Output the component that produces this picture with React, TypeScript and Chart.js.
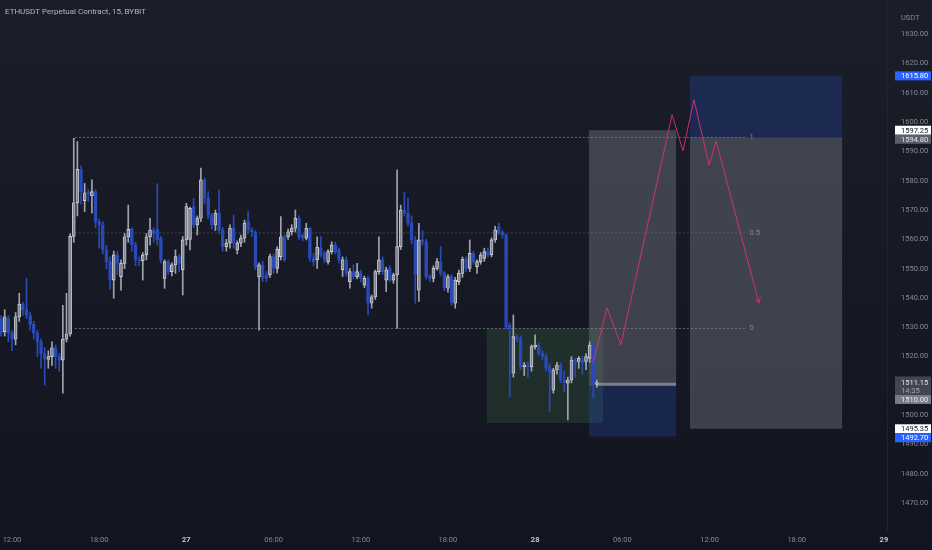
import { useEffect, useRef } from 'react';
import { Chart, registerables } from 'chart.js';

Chart.register(...registerables);

// ---------- data ----------
// bar index: 0 = 26th 12:00, one bar = 15 minutes
const CANDLE_START = -3;

const OPEN = [
  1533, 1528.5, 1533, 1528, 1525.9, 1533.6, 1537.9, 1536, 1534, 1531,
  1528, 1525, 1521, 1519, 1520, 1523, 1520, 1518.8, 1525.9, 1527.7,
  1561, 1572.5, 1583.9, 1573.2, 1576, 1574.9, 1576.3, 1566, 1564.9, 1556.4,
  1552.4, 1546.1, 1554.7, 1547.3, 1551.8, 1560.9, 1563.4, 1558.1, 1553, 1552.7,
  1554.7, 1560.9, 1563.2, 1563.4, 1560.4, 1546.7, 1552.4, 1549, 1551.3, 1554.1,
  1549.6, 1559.8, 1560, 1571.2, 1564.9, 1567.2, 1580.3, 1574, 1568.3, 1564.9,
  1568.9, 1563.2, 1557.5, 1558.7, 1563.8, 1556.4, 1558.7, 1560.4, 1566.1, 1563.2,
  1562.6, 1547.3, 1551.3, 1547.9, 1547.9, 1554.1, 1550.1, 1554.1, 1560.9, 1560.9,
  1562.6, 1563.8, 1567.2, 1561.5, 1560.4, 1563.8, 1553.5, 1553, 1557, 1555.2,
  1552.4, 1555.8, 1558.1, 1556.4, 1549.6, 1553, 1545.6, 1549, 1547.3, 1548.4,
  1544.4, 1546.7, 1538.2, 1540.4, 1549, 1553, 1546.1, 1550.1, 1546.1, 1547.9,
  1557.5, 1570, 1568.9, 1565.5, 1559.8, 1542.7, 1559.8, 1559.2, 1547.3, 1546.7,
  1550.1, 1552.4, 1548.4, 1543.3, 1547.3, 1538.2, 1545.6, 1548.4, 1553.2, 1550.1,
  1555.2, 1550.7, 1552.4, 1553.5, 1555.8, 1554.7, 1559.8, 1564.3, 1562.6, 1561.5,
  1530.8, 1514.3, 1526.8, 1526.2, 1516.5, 1517.1, 1516.5, 1523.4, 1523.9, 1521.1,
  1520, 1516.5, 1508.6, 1515.4, 1517.1, 1512, 1510.9, 1512, 1518.8, 1518.3,
  1518.8, 1518.3, 1519.4, 1523.9, 1510.5,
];
const HIGH = [
  1534, 1536, 1534, 1529, 1535, 1541.6, 1538.5, 1546.7, 1535, 1532,
  1529, 1526, 1523, 1522, 1525, 1524, 1521, 1537.5, 1541.6, 1562,
  1594.5, 1593.4, 1585, 1579.1, 1577, 1580.3, 1577, 1567, 1566, 1558,
  1554, 1556, 1556, 1553, 1562, 1571.7, 1564, 1559, 1554, 1555.5,
  1562, 1567.2, 1564, 1579, 1561, 1553, 1553, 1552, 1556.4, 1555,
  1561, 1572.3, 1571, 1574, 1568, 1584.3, 1581, 1576.3, 1569, 1570,
  1576.9, 1564, 1560, 1565, 1568.3, 1559.5, 1561.5, 1566.6, 1569.5, 1564,
  1563, 1552, 1552.5, 1549, 1555, 1555, 1557.5, 1567.8, 1561.5, 1563.5,
  1565, 1570, 1568, 1562, 1565.5, 1564, 1555.2, 1560.9, 1560.9, 1556,
  1556.5, 1559.2, 1559, 1557, 1554, 1554, 1550, 1551.3, 1551.8, 1549.5,
  1547.5, 1547.5, 1541, 1549.5, 1560.9, 1554, 1550.5, 1551, 1548.5, 1583.7,
  1571.7, 1576, 1574, 1568, 1561, 1565.5, 1563, 1560, 1548, 1551,
  1553.5, 1557.5, 1549, 1548, 1548, 1547, 1549.5, 1554, 1554, 1559.8,
  1556, 1553, 1555.5, 1557, 1557, 1560.5, 1564.5, 1565.5, 1563, 1562,
  1531.5, 1534.2, 1527.5, 1527, 1518, 1518, 1524, 1527.4, 1524.5, 1522,
  1521, 1517.5, 1516, 1518, 1518, 1515, 1513, 1520, 1519.5, 1520,
  1520, 1521, 1525, 1525, 1512,
];
const LOW = [
  1527, 1527, 1525, 1522, 1524, 1532, 1534, 1533, 1529, 1526,
  1520, 1516, 1510.3, 1516, 1517, 1516, 1515, 1507.5, 1525, 1527,
  1559, 1568, 1572, 1569.5, 1573, 1568.9, 1564, 1557, 1555, 1550,
  1543, 1539.9, 1548, 1542.7, 1550, 1559, 1556, 1551, 1551, 1546.1,
  1553, 1558, 1559, 1558, 1552, 1543.3, 1548, 1547.5, 1548.4, 1549,
  1541, 1558, 1556.4, 1564, 1561.5, 1566, 1572, 1567, 1563.5, 1563,
  1562, 1556, 1556, 1557, 1557, 1555, 1557.5, 1559, 1562, 1561,
  1549.6, 1529, 1545.5, 1545.5, 1547, 1548.4, 1548.5, 1553, 1552.4, 1560,
  1561.5, 1562.5, 1560, 1559.5, 1559.8, 1552.5, 1551, 1550.1, 1554, 1552,
  1551.5, 1555, 1555, 1552, 1547.3, 1547.5, 1543.3, 1546.5, 1546.5, 1545.5,
  1543.5, 1534.2, 1536.5, 1539.5, 1548, 1548, 1542.2, 1545.5, 1545, 1529.6,
  1556.5, 1568, 1564.5, 1558.5, 1538.2, 1538.8, 1558, 1546.5, 1545.5, 1545.5,
  1549.5, 1547.5, 1542.5, 1542, 1537.5, 1536.5, 1544.5, 1547, 1549, 1549,
  1551.5, 1548.4, 1551.5, 1552.5, 1554, 1554, 1559, 1561.5, 1560.5, 1529.5,
  1506.3, 1513, 1525, 1515.5, 1513.5, 1513, 1515, 1522.5, 1520.5, 1519,
  1515, 1501.2, 1507.5, 1514, 1511, 1508, 1498.4, 1511, 1513, 1516,
  1514, 1515.5, 1518, 1505.8, 1509.5,
];
const CLOSE = [
  1528, 1533.6, 1528, 1525.9, 1533.6, 1537.9, 1536, 1534, 1531, 1528,
  1525, 1521, 1519, 1520, 1523, 1520, 1518.8, 1525.9, 1527.7, 1561,
  1572.5, 1583.9, 1576.3, 1575.9, 1575.5, 1576.3, 1566, 1564.9, 1556.4, 1552.4,
  1546.1, 1554.7, 1551.8, 1551.8, 1560.9, 1563.4, 1558.1, 1553, 1552.7, 1554.7,
  1560.9, 1563.2, 1562, 1559.8, 1553, 1552.4, 1549, 1551.3, 1554.1, 1551.8,
  1559.8, 1571.2, 1570.6, 1564.9, 1567.2, 1580.3, 1574, 1568.3, 1564.9, 1568.9,
  1563.2, 1557.5, 1558.7, 1563.8, 1558.7, 1558.7, 1560.4, 1565.5, 1563.2, 1562.6,
  1550.7, 1551.3, 1546.7, 1546.7, 1554.1, 1550.1, 1556.6, 1560.9, 1553, 1562.6,
  1563.8, 1567.2, 1560.9, 1560.4, 1563.8, 1553.5, 1552.4, 1557.3, 1554.7, 1553,
  1555.8, 1558.1, 1555.8, 1553, 1553, 1548.4, 1549, 1547.3, 1549, 1546.7,
  1546.7, 1538.2, 1540.4, 1549, 1553, 1549, 1549.6, 1546.1, 1547.9, 1557.5,
  1570, 1568.9, 1565.5, 1559.8, 1548, 1559.8, 1559, 1547.3, 1546.7, 1550.1,
  1552.4, 1548.4, 1543.3, 1547.3, 1538.5, 1546.1, 1548.4, 1553.2, 1550.1, 1555.2,
  1552.4, 1552.4, 1554.7, 1555.8, 1554.7, 1559.8, 1563.2, 1562.1, 1561.5, 1530.2,
  1529.6, 1526.8, 1526.2, 1516.5, 1517.1, 1516.5, 1523.4, 1523.9, 1521.1, 1520,
  1516, 1514.8, 1515.4, 1517.1, 1512, 1511, 1512, 1518.8, 1517.7, 1519.4,
  1517.7, 1520, 1523.9, 1510.5, 1511.15,
];

const TIME_TICKS = [0, 24, 48, 72, 96, 120, 144, 168, 192, 216, 240];
const TIME_LABELS = ['12:00', '18:00', '27', '06:00', '12:00', '18:00', '28', '06:00', '12:00', '18:00', '29'];
const DATE_LABELS = ['27', '28', '29'];
const PRICE_TICKS = [1470, 1480, 1490, 1500, 1510, 1520, 1530, 1540, 1550, 1560, 1570, 1580, 1590, 1600, 1610, 1620, 1630];

const FIB_LEVELS = [1594.8, 1562.2, 1529.6];
const FIB_NAMES = ['1', '0.5', '0'];
const FIB_FROM = 17.3;
const FIB_TO = 201.8;
const FIB_LABEL_AT = 203;

const ZIGZAG_X = [159.9, 163.8, 167.6, 181.7, 184.7, 187.7, 191.9, 193.8, 205.6];
const ZIGZAG_Y = [1517.8, 1536.6, 1524.0, 1602.5, 1590.2, 1607.6, 1585.4, 1593.6, 1538.3];

// range box: [from bar, to bar, low, high]
const RANGE_BOX = [130.7, 162.7, 1497.3, 1529.6];
// long position: [from, to, stop, entry, target]
const LONG_POS = [158.8, 182.8, 1492.7, 1510.0, 1597.25];
// short position: [from, to, stop, entry, target]
const SHORT_POS = [186.6, 228.5, 1615.8, 1594.8, 1495.35];

const LAST_PRICE = 1511.15;
const LAST_BAR = 161;
const COUNTDOWN = '14:35';

const TITLE = 'ETHUSDT Perpetual Contract, 15, BYBIT';
const CURRENCY = 'USDT';

// ---------- styles ----------
const X_MIN = -3.3;
const X_MAX = 240.85;
const Y_MIN = 1460.8;
const Y_MAX = 1641.7;
const UP_FILL = '#80848e';
const UP_EDGE = '#cdd0d7';
const UP_WICK = '#a0a4ad';
const DOWN = '#2a4ab8';
const AXIS_TEXT = '#868993';
const FONT = 'Roboto, "Liberation Sans", sans-serif';

type Lbl = { price: number; text: string; bg: string; fg: string; sub?: string };

export default function App() {
  const ref = useRef<HTMLCanvasElement | null>(null);

  useEffect(() => {
    if (!ref.current) return;
    const xs = OPEN.map((_, k) => CANDLE_START + k);
    const up = OPEN.map((o, k) => CLOSE[k] >= o);

    const bodies = OPEN.map((o, k) => ({ x: xs[k], y: [o, CLOSE[k]] }));
    const wicks = OPEN.map((o, k) => ({
      x: xs[k],
      y: [Math.min(LOW[k], o, CLOSE[k]), Math.max(HIGH[k], o, CLOSE[k])],
    }));

    const fibSets = FIB_LEVELS.map((lv, k) => ({
      type: 'line' as const,
      data: [{ x: FIB_FROM, y: lv }, { x: FIB_TO, y: lv }],
      borderColor: k === 1 ? 'rgba(120,123,134,0.45)' : 'rgba(130,133,144,0.75)',
      borderWidth: 1,
      borderDash: [2, 2],
      pointRadius: 0,
      order: 3,
    }));

    const bgPlugin = {
      id: 'bgPlugin',
      beforeDraw(chart: any) {
        const { ctx, width, height } = chart;
        const g = ctx.createLinearGradient(0, 0, 0, height);
        g.addColorStop(0, '#1b1e29');
        g.addColorStop(1, '#121520');
        ctx.save();
        ctx.fillStyle = g;
        ctx.fillRect(0, 0, width, height);
        ctx.restore();
      },
    };

    const zonePlugin = {
      id: 'zonePlugin',
      beforeDatasetsDraw(chart: any) {
        const { ctx, chartArea } = chart;
        const x = chart.scales.x;
        const y = chart.scales.y;
        const rect = (x0: number, x1: number, p0: number, p1: number, c: string) => {
          const a = x.getPixelForValue(x0);
          const b = x.getPixelForValue(x1);
          const t = y.getPixelForValue(Math.max(p0, p1));
          const btm = y.getPixelForValue(Math.min(p0, p1));
          ctx.fillStyle = c;
          ctx.fillRect(a, t, b - a, btm - t);
        };
        ctx.save();
        ctx.beginPath();
        ctx.rect(chartArea.left, chartArea.top, chartArea.right - chartArea.left, chartArea.bottom - chartArea.top);
        ctx.clip();
        rect(RANGE_BOX[0], RANGE_BOX[1], RANGE_BOX[2], RANGE_BOX[3], 'rgba(76,140,80,0.2)');
        rect(LONG_POS[0], LONG_POS[1], LONG_POS[3], LONG_POS[4], 'rgba(120,123,134,0.42)');
        rect(LONG_POS[0], LONG_POS[1], LONG_POS[2], LONG_POS[3], 'rgba(41,98,255,0.2)');
        rect(SHORT_POS[0], SHORT_POS[1], SHORT_POS[3], SHORT_POS[4], 'rgba(120,123,134,0.42)');
        rect(SHORT_POS[0], SHORT_POS[1], SHORT_POS[2], SHORT_POS[3], 'rgba(41,98,255,0.2)');
        // current price inside the long position
        const ly = y.getPixelForValue(LAST_PRICE - 0.6);
        ctx.fillStyle = 'rgba(165,168,178,0.6)';
        const lx0 = x.getPixelForValue(LAST_BAR);
        ctx.fillRect(lx0, ly - 1.5, x.getPixelForValue(LONG_POS[1]) - lx0, 3);
        ctx.restore();
      },
    };

    const overlayPlugin = {
      id: 'overlayPlugin',
      afterDraw(chart: any) {
        const { ctx } = chart;
        const x = chart.scales.x;
        const y = chart.scales.y;
        ctx.save();
        // title
        ctx.font = `8px ${FONT}`;
        ctx.fillStyle = '#b2b5be';
        ctx.textBaseline = 'middle';
        ctx.textAlign = 'left';
        ctx.fillText(TITLE, 5, 12);
        // currency
        ctx.font = `7.5px ${FONT}`;
        ctx.fillStyle = AXIS_TEXT;
        ctx.fillText(CURRENCY, y.left + 14, 18);
        // fib labels
        ctx.fillStyle = 'rgba(140,143,153,0.9)';
        FIB_LEVELS.forEach((lv, k) => {
          ctx.fillText(FIB_NAMES[k], x.getPixelForValue(FIB_LABEL_AT), y.getPixelForValue(lv));
        });
        // arrow head on zigzag
        const m = ZIGZAG_X.length;
        const ex = x.getPixelForValue(ZIGZAG_X[m - 1]);
        const ey = y.getPixelForValue(ZIGZAG_Y[m - 1]);
        const px = x.getPixelForValue(ZIGZAG_X[m - 2]);
        const py = y.getPixelForValue(ZIGZAG_Y[m - 2]);
        const ang = Math.atan2(ey - py, ex - px);
        ctx.strokeStyle = 'rgba(224,48,111,0.9)';
        ctx.lineWidth = 1;
        ctx.beginPath();
        ctx.moveTo(ex - 6 * Math.cos(ang - 0.5), ey - 6 * Math.sin(ang - 0.5));
        ctx.lineTo(ex, ey);
        ctx.lineTo(ex - 6 * Math.cos(ang + 0.5), ey - 6 * Math.sin(ang + 0.5));
        ctx.stroke();

        // price tick labels
        ctx.font = `7.5px ${FONT}`;
        ctx.fillStyle = AXIS_TEXT;
        PRICE_TICKS.forEach((p) => {
          ctx.fillText(p.toFixed(2), y.left + 14, y.getPixelForValue(p));
        });

        // price labels on the axis
        const labels: Lbl[] = [
          { price: SHORT_POS[2], text: SHORT_POS[2].toFixed(2), bg: '#2962ff', fg: '#ffffff' },
          { price: LONG_POS[4], text: LONG_POS[4].toFixed(2), bg: '#ffffff', fg: '#131722' },
          { price: SHORT_POS[3], text: SHORT_POS[3].toFixed(2), bg: '#5d606b', fg: '#e0e3eb' },
          { price: LAST_PRICE, text: LAST_PRICE.toFixed(2), bg: '#434651', fg: '#e0e3eb', sub: COUNTDOWN },
          { price: LONG_POS[3], text: LONG_POS[3].toFixed(2), bg: '#787b86', fg: '#eceef3' },
          { price: SHORT_POS[4], text: SHORT_POS[4].toFixed(2), bg: '#ffffff', fg: '#131722' },
          { price: LONG_POS[2], text: LONG_POS[2].toFixed(2), bg: '#2962ff', fg: '#ffffff' },
        ];
        labels.sort((a, b) => b.price - a.price);
        let prevBottom = -Infinity;
        const bx = y.left + 8;
        const bw = chart.width - bx - 1;
        for (const l of labels) {
          let cy = y.getPixelForValue(l.price);
          const up0 = l.sub ? 6 : 4.5;
          const dn0 = l.sub ? 12.5 : 4.5;
          if (cy - up0 < prevBottom) cy = prevBottom + up0;
          prevBottom = cy + dn0;
          ctx.fillStyle = l.bg;
          ctx.fillRect(bx, cy - up0, bw, up0 + dn0);
          ctx.fillStyle = l.fg;
          ctx.fillText(l.text, y.left + 14, cy + 0.5);
          if (l.sub) {
            ctx.fillStyle = '#a3a6af';
            ctx.fillText(l.sub, y.left + 14, cy + 8.5);
          }
        }
        ctx.restore();
      },
    };

    const chart = new Chart(ref.current, {
      type: 'bar',
      data: {
        datasets: [
          {
            type: 'line',
            data: ZIGZAG_X.map((v, k) => ({ x: v, y: ZIGZAG_Y[k] })),
            borderColor: 'rgba(224,48,111,0.9)',
            borderWidth: 1,
            pointRadius: 0,
            tension: 0,
            order: 0,
          } as any,
          {
            type: 'bar',
            data: bodies as any,
            backgroundColor: up.map((u) => (u ? UP_FILL : DOWN)),
            borderColor: up.map((u) => (u ? UP_EDGE : DOWN)),
            borderWidth: 0.9,
            borderSkipped: false,
            barThickness: 3,
            minBarLength: 1,
            grouped: false,
            order: 1,
          } as any,
          {
            type: 'bar',
            data: wicks as any,
            backgroundColor: up.map((u) => (u ? UP_WICK : DOWN)),
            borderWidth: 0,
            barThickness: 1,
            grouped: false,
            order: 2,
          } as any,
          ...(fibSets as any[]),
        ],
      },
      options: {
        animation: false,
        responsive: true,
        maintainAspectRatio: false,
        events: [],
        layout: { padding: 0 },
        plugins: { legend: { display: false }, tooltip: { enabled: false } },
        scales: {
          x: {
            type: 'linear',
            min: X_MIN,
            max: X_MAX,
            offset: false,
            grid: { display: false, drawTicks: false },
            border: { display: false },
            afterBuildTicks: (s: any) => {
              s.ticks = TIME_TICKS.map((v) => ({ value: v }));
            },
            afterFit: (s: any) => {
              s.height = 20;
              s.paddingLeft = 0;
              s.paddingRight = 0;
            },
            ticks: {
              autoSkip: false,
              maxRotation: 0,
              padding: 6,
              callback: (v: any) => {
                const k = TIME_TICKS.indexOf(Number(v));
                return k >= 0 ? TIME_LABELS[k] : '';
              },
              color: (c: any) => {
                const k = TIME_TICKS.indexOf(c.tick?.value);
                return k >= 0 && DATE_LABELS.includes(TIME_LABELS[k]) ? '#c3c6ce' : AXIS_TEXT;
              },
              font: (c: any) => {
                const k = TIME_TICKS.indexOf(c.tick?.value);
                const bold = k >= 0 && DATE_LABELS.includes(TIME_LABELS[k]);
                return { size: 7.5, family: FONT, weight: bold ? 'bold' : 'normal' };
              },
            },
          },
          y: {
            type: 'linear',
            position: 'right',
            min: Y_MIN,
            max: Y_MAX,
            grid: { display: false, drawTicks: false },
            border: { display: true, color: '#1f232e' },
            afterBuildTicks: (s: any) => {
              s.ticks = PRICE_TICKS.map((v) => ({ value: v }));
            },
            afterFit: (s: any) => {
              s.width = 45;
              s.paddingTop = 0;
              s.paddingBottom = 0;
            },
            ticks: { display: false },
          },
        },
      } as any,
      plugins: [bgPlugin, zonePlugin, overlayPlugin],
    });
    return () => chart.destroy();
  }, []);

  return (
    <div style={{ position: 'fixed', left: 0, top: 0, width: 932, height: 550 }}>
      <canvas ref={ref} />
    </div>
  );
}
